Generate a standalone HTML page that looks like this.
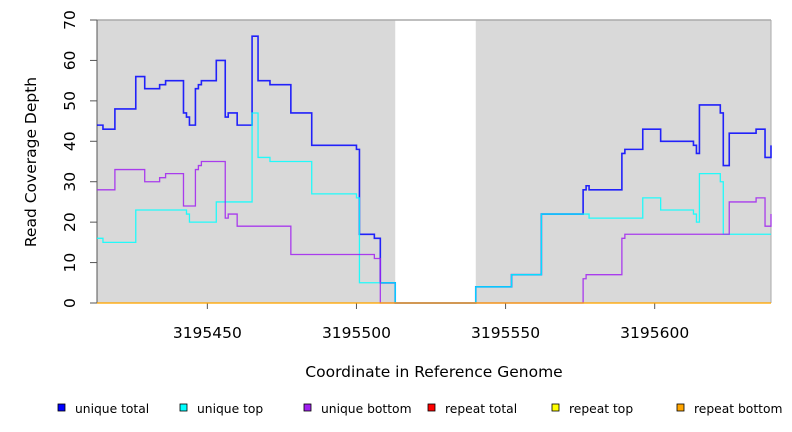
<!DOCTYPE html>
<html><head><meta charset="utf-8"><style>
body{margin:0;background:#fff;width:792px;height:432px;overflow:hidden;font-family:"Liberation Sans","DejaVu Sans",sans-serif}
svg{display:block}
</style></head><body>
<svg id="chart" width="792" height="432" font-family="DejaVu Sans, Liberation Sans, sans-serif">
<g id="bg"></g>
<g id="axes"></g>
<g id="series"></g>
<g id="legend"></g>
</svg>
<script>
const xTicks=[3195450,3195500,3195550,3195600];
const yTicks=[0,10,20,30,40,50,60,70];
const regions=[[3195413,3195513],[3195540,3195639]];
const totalX=[3195413,3195415,3195419,3195426,3195429,3195434,3195436,3195442,3195443,3195444,3195446,3195447,3195448,3195453,3195456,3195457,3195460,3195465,3195467,3195471,3195478,3195485,3195500,3195501,3195506,3195508,3195513,3195540,3195552,3195562,3195576,3195577,3195578,3195589,3195590,3195596,3195602,3195613,3195614,3195615,3195622,3195623,3195625,3195634,3195637,3195639];
const totalV=[44,43,48,56,53,54,55,47,46,44,53,54,55,60,46,47,44,66,55,54,47,39,38,17,16,5,0,4,7,22,28,29,28,37,38,43,40,39,37,49,47,34,42,43,36,39];
const topX=[3195413,3195415,3195426,3195443,3195444,3195453,3195465,3195467,3195471,3195485,3195500,3195501,3195513,3195540,3195552,3195562,3195577,3195578,3195596,3195602,3195613,3195614,3195615,3195622,3195623,3195639];
const topV=[16,15,23,22,20,25,47,36,35,27,26,5,0,4,7,22,22,21,26,23,22,20,32,30,17,17];
const botX=[3195413,3195419,3195429,3195434,3195436,3195442,3195446,3195447,3195448,3195456,3195457,3195460,3195478,3195506,3195508,3195576,3195577,3195589,3195590,3195625,3195634,3195637,3195639];
const botV=[28,33,30,31,32,24,33,34,35,21,22,19,12,11,0,6,7,16,17,25,26,19,22];
const legendNames=["unique total","unique top","unique bottom","repeat total","repeat top","repeat bottom"];
const legendColors=["#0000ff","#00ffff","#a020f0","#ff0000","#ffff00","#ffa500"];
const X0=97,X1=771,Y0=303,Y1=20,xmin=3195413,xmax=3195639,ymax=70;
const xs=v=>X0+(v-xmin)/(xmax-xmin)*(X1-X0);
const ys=v=>Y0-v/ymax*(Y0-Y1);
const NS="http://www.w3.org/2000/svg";
function mk(p,t,a){const e=document.createElementNS(NS,t);for(const k in a)e.setAttribute(k,a[k]);p.appendChild(e);return e;}
const bg=document.getElementById('bg');
regions.forEach((r,i)=>{const e=mk(bg,'rect',{x:xs(r[0]),y:Y1,width:xs(r[1])-xs(r[0]),height:Y0-Y1,fill:'#d9d9d9'});

});
mk(bg,'line',{x1:X0,y1:Y1,x2:X1,y2:Y1,stroke:'#aaa','stroke-width':1.5});
mk(bg,'line',{x1:X1,y1:Y1,x2:X1,y2:Y0,stroke:'#aaa','stroke-width':1});
const ax=document.getElementById('axes');
mk(ax,'line',{x1:X0,y1:Y0,x2:X0,y2:Y1,stroke:'#555'});
yTicks.forEach(t=>{const y=ys(t);mk(ax,'line',{x1:90,y1:y,x2:X0,y2:y,stroke:'#555'});
const tx=mk(ax,'text',{x:75,y:y,'font-size':15.5,'text-anchor':'middle',transform:`rotate(-90 75 ${y})`,fill:'#000'});tx.textContent=t;

});
xTicks.forEach(t=>{const x=xs(t);mk(ax,'line',{x1:x,y1:Y0,x2:x,y2:309,stroke:'#555'});
const tx=mk(ax,'text',{x:x,y:338,'font-size':15.5,'text-anchor':'middle'});tx.textContent=t;

});
let t1=mk(ax,'text',{x:36,y:162,'font-size':15.5,'text-anchor':'middle',transform:'rotate(-90 36 162)'});t1.textContent='Read Coverage Depth';


let t2=mk(ax,'text',{x:434,y:377,'font-size':15.5,'text-anchor':'middle'});t2.textContent='Coordinate in Reference Genome';


const sg=document.getElementById('series');
function step(X,V,col,w,name){let d='';for(let i=0;i<X.length;i++){const x=xs(X[i]),y=ys(V[i]);
d+=(i?`L${x},${ys(V[i-1])}L${x},${y}`:`M${x},${y}`);}
const p=mk(sg,'path',{d:d,fill:'none',stroke:col,'stroke-width':w,'stroke-opacity':0.85});

}
step(totalX,totalV,'#0000ff',1.6,'unique-total-line');
step(topX,topV,'#00ffff',1.3,'unique-top-line');
step(botX,botV,'#a020f0',1.3,'unique-bottom-line');
['#ff0000','#ffff00','#ffa500'].forEach((c,i)=>{const l=mk(sg,'line',{x1:X0,y1:Y0,x2:X1,y2:Y0,stroke:c,'stroke-width':1.2,'stroke-opacity':0.6});

});
const lg=document.getElementById('legend');
const lx=[61,183,307,431,555,680];
legendNames.forEach((n,i)=>{const g=mk(lg,'g',{});


mk(g,'rect',{x:lx[i]-3,y:404,width:7,height:7,fill:legendColors[i],stroke:'#000','stroke-width':0.8});
const t=mk(g,'text',{x:lx[i]+14,y:413,'font-size':12.3});t.textContent=n;});
</script>
</body></html>
